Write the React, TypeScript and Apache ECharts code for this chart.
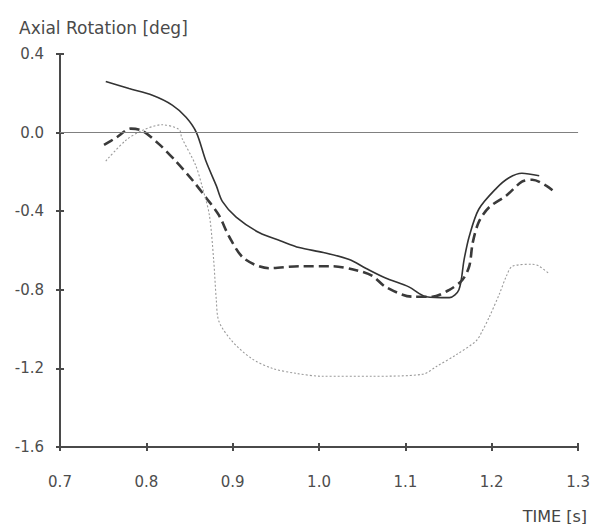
import React, { useEffect, useRef } from "react";
import * as echarts from "echarts";

const xTicks = [0.7, 0.8, 0.9, 1.0, 1.1, 1.2, 1.3];
const yTicks = [0.4, 0.0, -0.4, -0.8, -1.2, -1.6];

const solidLine: [number, number][] = [
  [0.753, 0.26], [0.78, 0.224], [0.807, 0.19], [0.83, 0.14], [0.846, 0.078],
  [0.858, 0], [0.869, -0.145], [0.881, -0.27], [0.888, -0.35], [0.904, -0.43],
  [0.931, -0.51], [0.955, -0.55], [0.977, -0.585], [1.005, -0.61], [1.035, -0.646],
  [1.054, -0.69], [1.077, -0.74], [1.104, -0.785], [1.124, -0.835], [1.151, -0.84],
  [1.162, -0.8], [1.168, -0.646], [1.174, -0.527], [1.185, -0.39], [1.205, -0.285],
  [1.22, -0.23], [1.235, -0.207], [1.255, -0.22],
];

const dashedLine: [number, number][] = [
  [0.751, -0.062], [0.765, -0.026], [0.782, 0.02], [0.795, 0.01], [0.815, -0.06],
  [0.834, -0.145], [0.853, -0.24], [0.869, -0.33], [0.884, -0.42], [0.896, -0.53],
  [0.913, -0.64], [0.942, -0.69], [0.977, -0.68], [1.015, -0.68], [1.043, -0.7],
  [1.062, -0.73], [1.077, -0.785], [1.108, -0.835], [1.131, -0.835], [1.151, -0.8],
  [1.166, -0.75], [1.174, -0.68], [1.178, -0.56], [1.185, -0.455], [1.197, -0.38],
  [1.217, -0.32], [1.235, -0.25], [1.247, -0.24], [1.263, -0.27], [1.275, -0.31],
];

const dottedLine: [number, number][] = [
  [0.753, -0.145], [0.776, -0.04], [0.795, 0.01], [0.818, 0.04], [0.838, 0.016],
  [0.841, -0.026], [0.857, -0.165], [0.865, -0.28], [0.873, -0.42], [0.878, -0.65],
  [0.881, -0.85], [0.884, -0.96], [0.899, -1.06], [0.922, -1.15], [0.946, -1.2],
  [0.973, -1.225], [1.004, -1.24], [1.06, -1.24], [1.12, -1.23], [1.136, -1.19],
  [1.159, -1.13], [1.182, -1.06], [1.189, -1.01], [1.197, -0.94], [1.209, -0.82],
  [1.217, -0.73], [1.224, -0.68], [1.247, -0.67], [1.255, -0.68], [1.267, -0.72],
];

const FONT = "DejaVu Sans, sans-serif";
const AXIS_COLOR = "#4a4a4a";
const TEXT_COLOR = "#4d4d4d";

export default function App() {
  const ref = useRef<HTMLDivElement>(null);
  useEffect(() => {
    if (!ref.current) return;
    const chart = echarts.init(ref.current, undefined, { renderer: "svg" });
    const xMin = xTicks[0];
    const xMax = xTicks[xTicks.length - 1];
    const yMin = yTicks[yTicks.length - 1];
    const yMax = yTicks[0];
    const baseX = {
      type: "value" as const,
      min: xMin,
      max: xMax,
      interval: 0.1,
      splitLine: { show: false },
    };
    const baseY = {
      type: "value" as const,
      min: yMin,
      max: yMax,
      interval: 0.4,
      splitLine: { show: false },
    };
    chart.setOption({
      animation: false,
      backgroundColor: "#fff",
      grid: { left: 60, right: 14, top: 54, bottom: 77, containLabel: false },
      title: {
        text: "Axial Rotation [deg]",
        left: 14,
        top: 14,
        textStyle: { fontFamily: FONT, fontSize: 17, fontWeight: "normal", color: "#4a4a4a" },
      },
      xAxis: [
        {
          ...baseX,
          position: "bottom",
          axisLine: { show: true, onZero: false, lineStyle: { color: AXIS_COLOR, width: 2 } },
          axisTick: { show: true, length: 4, lineStyle: { color: AXIS_COLOR, width: 2 } },
          axisLabel: {
            fontFamily: FONT,
            fontSize: 15,
            color: TEXT_COLOR,
            margin: 27,
            formatter: (v: number) => v.toFixed(1),
          },
        },
        {
          ...baseX,
          position: "bottom",
          axisLine: { show: false, onZero: false },
          axisTick: { show: true, inside: true, length: 4, lineStyle: { color: AXIS_COLOR, width: 2 } },
          axisLabel: { show: false },
        },
      ],
      yAxis: [
        {
          ...baseY,
          position: "left",
          axisLine: { show: true, onZero: false, lineStyle: { color: AXIS_COLOR, width: 2 } },
          axisTick: { show: true, length: 4, lineStyle: { color: AXIS_COLOR, width: 2 } },
          axisLabel: {
            fontFamily: FONT,
            fontSize: 15,
            color: TEXT_COLOR,
            margin: 16,
            formatter: (v: number) => v.toFixed(1),
          },
        },
        {
          ...baseY,
          position: "left",
          axisLine: { show: false, onZero: false },
          axisTick: { show: true, inside: true, length: 4, lineStyle: { color: AXIS_COLOR, width: 2 } },
          axisLabel: { show: false },
        },
      ],
      graphic: [
        {
          type: "text",
          right: 6,
          top: 508,
          style: { text: "TIME [s]", fontFamily: FONT, fontSize: 16, fill: "#444" },
        },
      ],
      series: [
        {
          type: "line",
          name: "solid",
          data: solidLine,
          showSymbol: false,
          smooth: 0.3,
          lineStyle: { color: "#333", width: 1.6 },
          markLine: {
            silent: true,
            symbol: "none",
            label: { show: false },
            lineStyle: { color: "#808080", width: 1.2, type: "solid" },
            data: [{ yAxis: 0 }],
          },
        },
        {
          type: "line",
          name: "dashed",
          data: dashedLine,
          showSymbol: false,
          smooth: 0.3,
          lineStyle: { color: "#3a3a3a", width: 2.6, type: [10, 5] },
        },
        {
          type: "line",
          name: "dotted",
          data: dottedLine,
          showSymbol: false,
          smooth: 0.3,
          lineStyle: { color: "#9a9a9a", width: 1.1, type: [2, 2] },
        },
      ],
    });
    return () => chart.dispose();
  }, []);
  return (
    <div
      ref={ref}
      style={{ position: "absolute", left: 0, top: 0, width: 593, height: 524 }}
    />
  );
}
